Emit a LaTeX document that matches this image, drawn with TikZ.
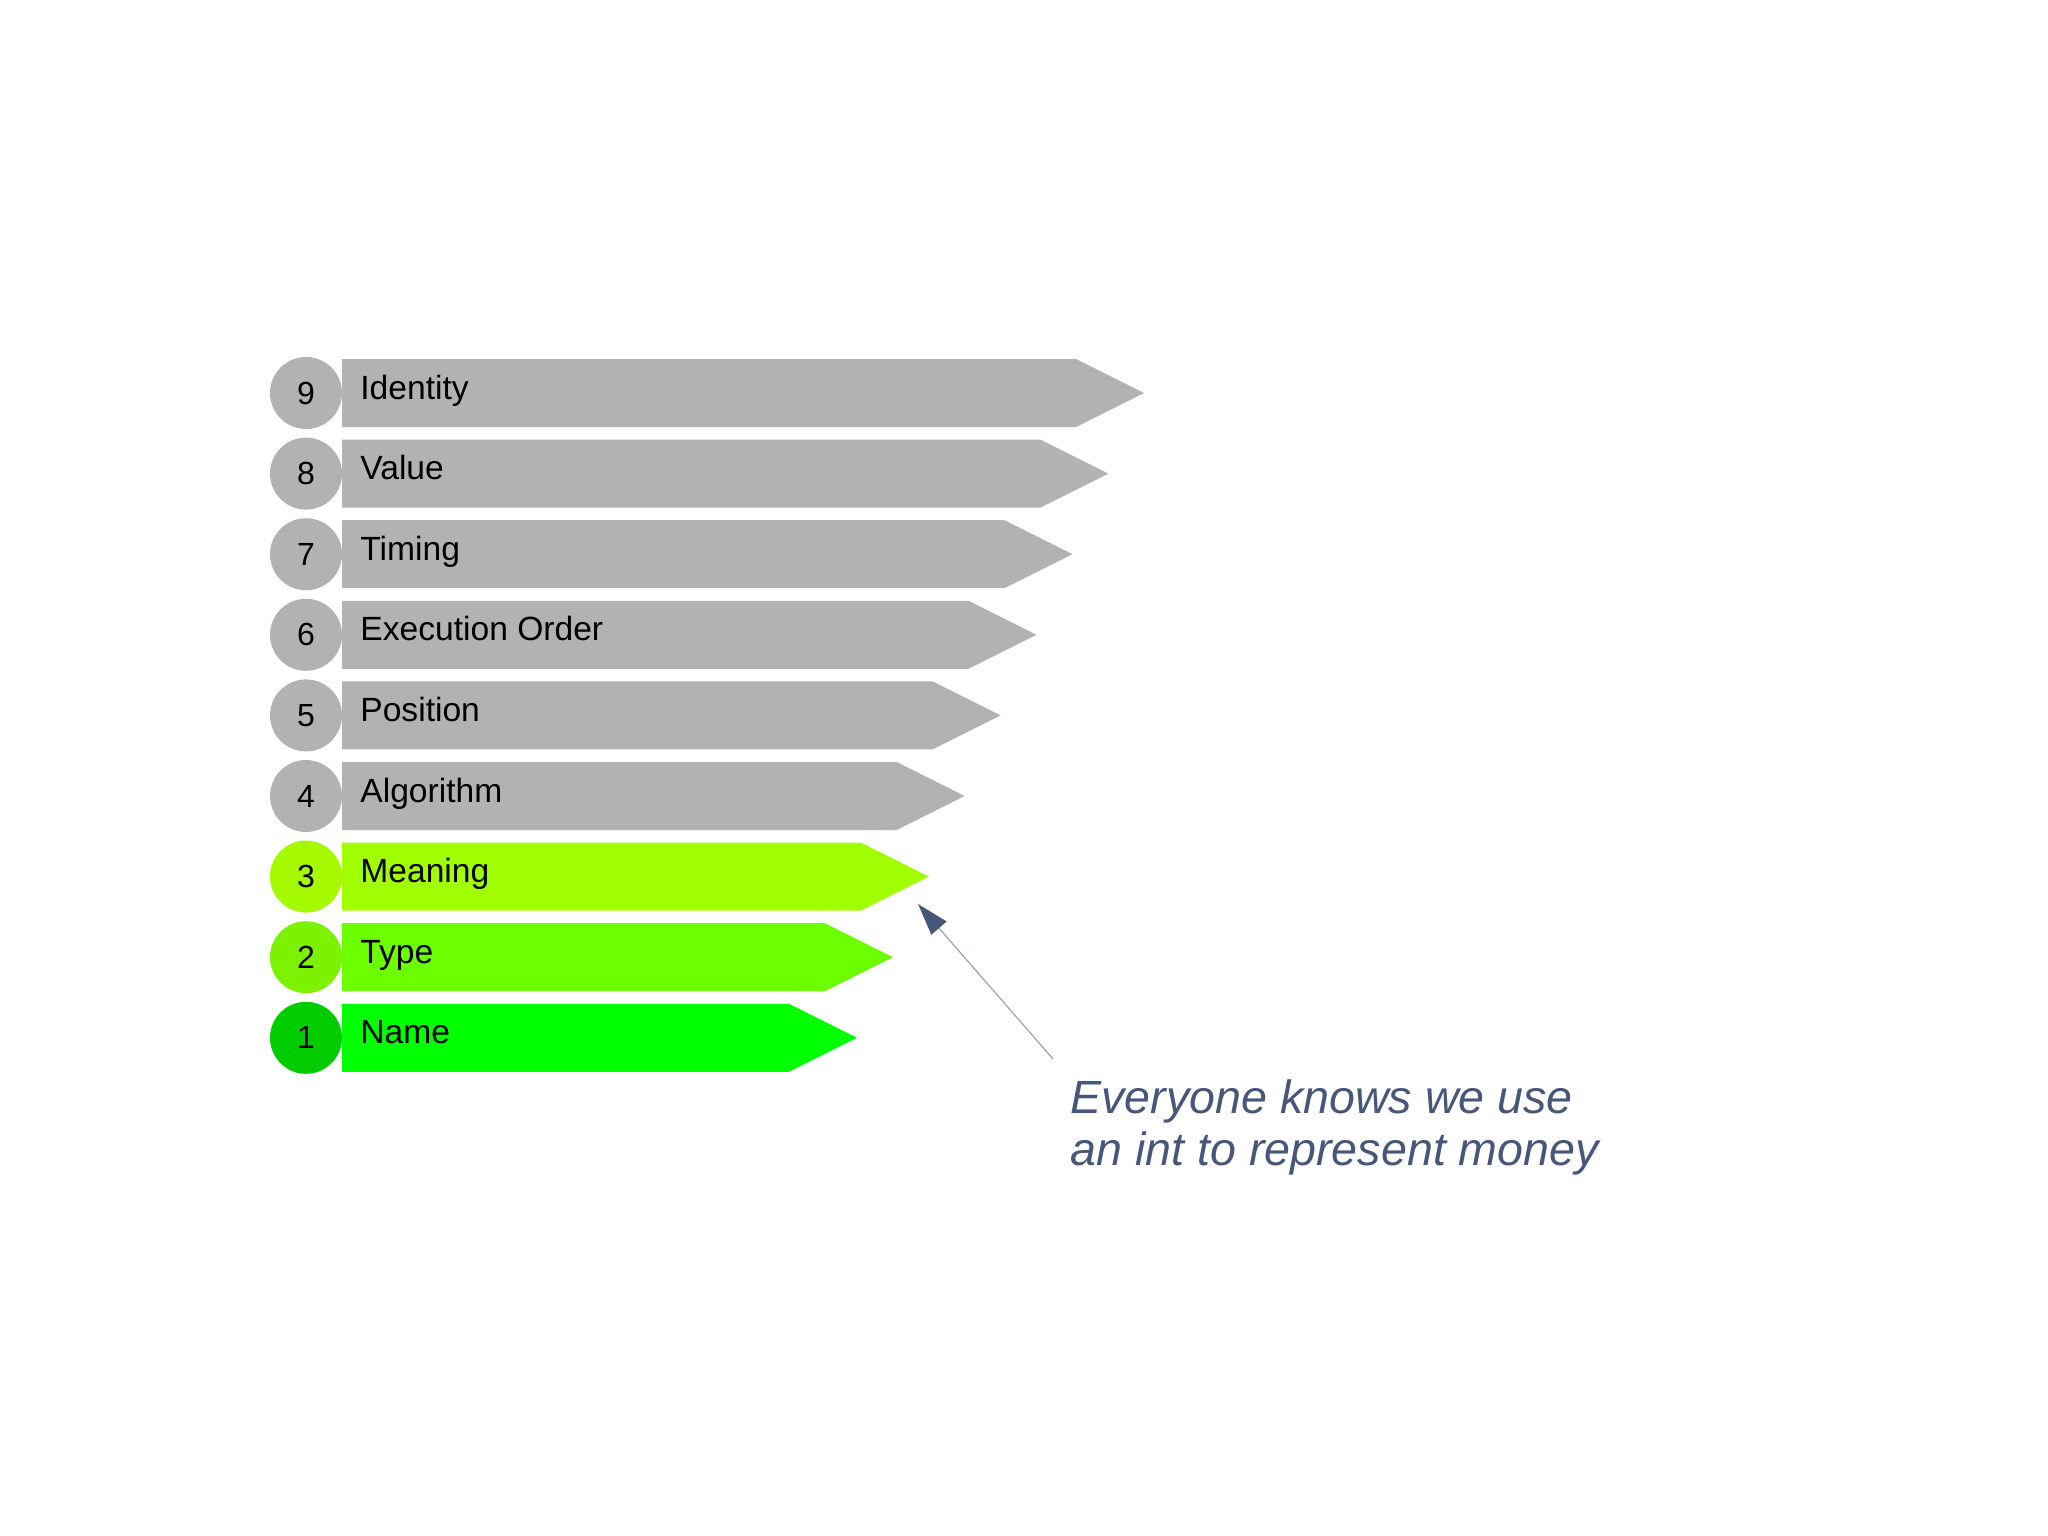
\documentclass[tikz,border=0pt]{standalone}
\usepackage{fontspec}
\setmainfont{Liberation Sans}
\usetikzlibrary{arrows.meta}
\definecolor{barGray}{RGB}{178,178,178}
\definecolor{meaningBar}{RGB}{160,255,0}
\definecolor{meaningDot}{RGB}{166,250,0}
\definecolor{typeBar}{RGB}{108,255,0}
\definecolor{typeDot}{RGB}{124,242,0}
\definecolor{nameBar}{RGB}{0,255,0}
\definecolor{nameDot}{RGB}{0,204,0}
\definecolor{noteBlue}{RGB}{71,87,122}
\begin{document}
\begin{tikzpicture}
        [x=0.5pt,y=-0.5pt,
        dotdecorate/.style={shape=circle,inner sep=0pt,minimum size=36pt,font=\fontsize{16}{19}\selectfont},
        labeldecorate/.style={anchor=base west,inner sep=0pt,font=\fontsize{16.8}{20}\selectfont},
        notedecorate/.style={anchor=base west,inner sep=0pt,align=left,text=noteBlue,font=\fontsize{23.3}{26}\selectfont\itshape},
        arrowdecorate/.style={-{Triangle[length=16pt,width=10pt,color=noteBlue]},draw=noteBlue!55,line width=0.6pt}]
        \useasboundingbox (0,0) rectangle (2048,1535);
        %% bars, dots and labels
        \foreach \num/\rowname/\barcol/\dotcol in {9/Identity/barGray/barGray,
          8/Value/barGray/barGray, 7/Timing/barGray/barGray, 6/Execution Order/barGray/barGray,
          5/Position/barGray/barGray, 4/Algorithm/barGray/barGray, 3/Meaning/meaningBar/meaningDot,
          2/Type/typeBar/typeDot, 1/Name/nameBar/nameDot}
        {
          \pgfmathsetmacro\cy{393+(9-\num)*80.6}
          \pgfmathsetmacro\tip{857+(\num-1)*35.9}
          \fill[\barcol] (342,\cy-34) -- (\tip-68,\cy-34) -- (\tip,\cy)
            -- (\tip-68,\cy+34) -- (342,\cy+34) -- cycle;
          \node (dot\num) at (306,\cy) [dotdecorate,fill=\dotcol] {\num};
          \node (lbl\num) at (360,\cy+6) [labeldecorate] {\rowname};
        }
        %% note and its arrow
        \node (note) at (1070,1165) [notedecorate] {Everyone knows we use\\an int to represent money};
        \coordinate (callout) at (1053,1059);
        \coordinate (target) at (918,904);
        \draw[arrowdecorate] (callout) -- (target);
      \end{tikzpicture}
\end{document}
